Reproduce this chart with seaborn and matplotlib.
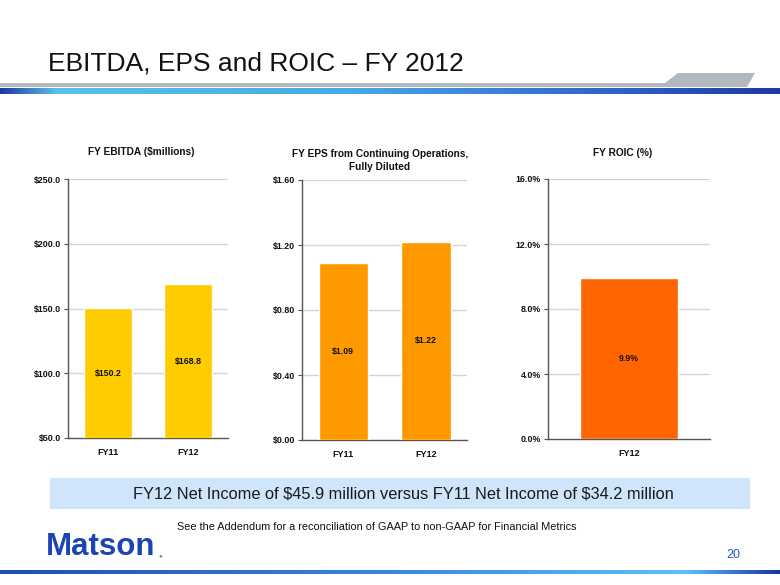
import numpy as np
import seaborn as sns
from matplotlib import pyplot as plt, font_manager
from matplotlib.colors import LinearSegmentedColormap
from matplotlib.patches import Polygon, Rectangle

# data
ebitda_years = ["FY11", "FY12"]
ebitda_values = [150.2, 168.8]
ebitda_ticks = [50, 100, 150, 200, 250]

eps_years = ["FY11", "FY12"]
eps_values = [1.09, 1.22]
eps_ticks = [0.0, 0.4, 0.8, 1.2, 1.6]

roic_years = ["FY12"]
roic_values = [9.9]
roic_ticks = [0.0, 4.0, 8.0, 12.0, 16.0]

sns.set_theme(style="white")
installed = {f.name for f in font_manager.fontManager.ttflist}
narrow = "Liberation Sans Narrow" if "Liberation Sans Narrow" in installed else "Liberation Sans"
plt.rcParams['font.family'] = ['Liberation Sans', 'DejaVu Sans']

W, H = 780, 585
fig = plt.figure(figsize=(7.8, 5.85), dpi=100)

# slide decoration in pixel coordinates
bg = fig.add_axes([0, 0, 1, 1])
bg.set_xlim(0, W)
bg.set_ylim(H, 0)
bg.axis("off")

bg.add_patch(Polygon([[0, 83], [665, 83], [678, 73], [755, 73], [747, 87], [0, 87]],
                     closed=True, color="#b2b9bd", lw=0))
top_cmap = LinearSegmentedColormap.from_list(
    "top", [(0, "#1b3c9c"), (0.07, "#5bbff0"), (0.45, "#4aa8e6"), (0.8, "#2c62c4"), (1, "#1b3c9c")])
bg.imshow(np.linspace(0, 1, 256)[None, :], cmap=top_cmap, aspect="auto",
          extent=[0, W, 94, 88.5], zorder=2)
bot_cmap = LinearSegmentedColormap.from_list(
    "bot", [(0, "#1f4fb0"), (0.5, "#3c86d8"), (0.88, "#5cc2f2"), (0.94, "#3a7ad0"), (1, "#1a35a0")])
bg.imshow(np.linspace(0, 1, 256)[None, :], cmap=bot_cmap, aspect="auto",
          extent=[0, W, 574.5, 570.5], zorder=2)

bg.text(48, 64, "EBITDA, EPS and ROIC \u2013 FY 2012", fontsize=19, family=[narrow, 'DejaVu Sans'],
        color="#111111", va="center", ha="left")

bg.add_patch(Rectangle((50, 478), 700, 31, color="#cfe5fb", lw=0))
bg.text(403, 494, r"FY12 Net Income of \$45.9 million versus FY11 Net Income of \$34.2 million",
        fontsize=11.8, color="#1a1a1a", ha="center", va="center")
bg.text(377, 527, "See the Addendum for a reconciliation of GAAP to non-GAAP for Financial Metrics",
        fontsize=7.8, family=[narrow, 'DejaVu Sans'], color="#111111", ha="center", va="center")
bg.text(46, 547, "Matson", fontsize=22.5, fontweight="bold", color="#1b44b4",
        ha="left", va="center", family=[narrow, 'DejaVu Sans'])
bg.text(160, 556, "\u25cf", fontsize=4.5, color="#6a80c8", ha="center", va="center")
bg.text(733, 555, "20", fontsize=9, color="#2a55c0", ha="center", va="center")


def px_box(left, right, top, bottom):
    return [left / W, 1 - bottom / H, (right - left) / W, (bottom - top) / H]


def panel(box, years, values, ticks, color, fmt, labfmt, title, title_x, title_y):
    ax = fig.add_axes(box)
    sns.barplot(x=years, y=values, ax=ax, color=color, saturation=1, width=0.6, zorder=3)
    ax.set_ylim(ticks[0], ticks[-1])
    ax.set_xlim(-0.5, len(years) - 0.5)
    ax.set_yticks(ticks)
    ax.set_yticklabels([fmt(t) for t in ticks], fontsize=6.4, fontweight="bold", color="#111111")
    ax.set_xticks(range(len(years)))
    ax.set_xticklabels(years, fontsize=6.5, fontweight="bold", color="#111111")
    ax.tick_params(axis="x", length=0, pad=7)
    ax.set_xticks(np.arange(-0.5, len(years)), minor=True)
    ax.tick_params(axis="x", which="minor", length=3, color="#555555", width=0.8, direction="out")
    ax.tick_params(axis="y", length=3, color="#555555", width=0.8, direction="out", left=True, pad=2)
    for t in ticks[1:]:
        ax.axhline(t, color="#d4d4d4", lw=1, zorder=1)
    for s in ["top", "right"]:
        ax.spines[s].set_visible(False)
    for s in ["left", "bottom"]:
        ax.spines[s].set_color("#555555")
        ax.spines[s].set_linewidth(1)
    ax.grid(False)
    for i, v in enumerate(values):
        ax.text(i, (ticks[0] + v) / 2, labfmt(v), fontsize=6.3, fontweight="bold",
                color="#111111", ha="center", va="center", zorder=4)
    fig.text(title_x / W, 1 - title_y / H, title, fontsize=7.3, fontweight="bold",
             color="#111111", ha="center", va="center", linespacing=1.35)
    return ax


panel(px_box(68, 228, 179, 438), ebitda_years, ebitda_values, ebitda_ticks, "#ffcc00",
      lambda t: f"${t:.1f}", lambda v: f"${v:.1f}", "FY EBITDA ($millions)", 141, 152)
panel(px_box(302, 467, 180, 440), eps_years, eps_values, eps_ticks, "#ff9900",
      lambda t: f"${t:.2f}", lambda v: f"${v:.2f}",
      "FY EPS from Continuing Operations,\nFully Diluted", 380, 160.5)
panel(px_box(548, 710, 179, 439), roic_years, roic_values, roic_ticks, "#ff6600",
      lambda t: f"{t:.1f}%", lambda v: f"{v:.1f}%", "FY ROIC (%)", 623, 153)

fig.savefig("out.png", dpi=100)
